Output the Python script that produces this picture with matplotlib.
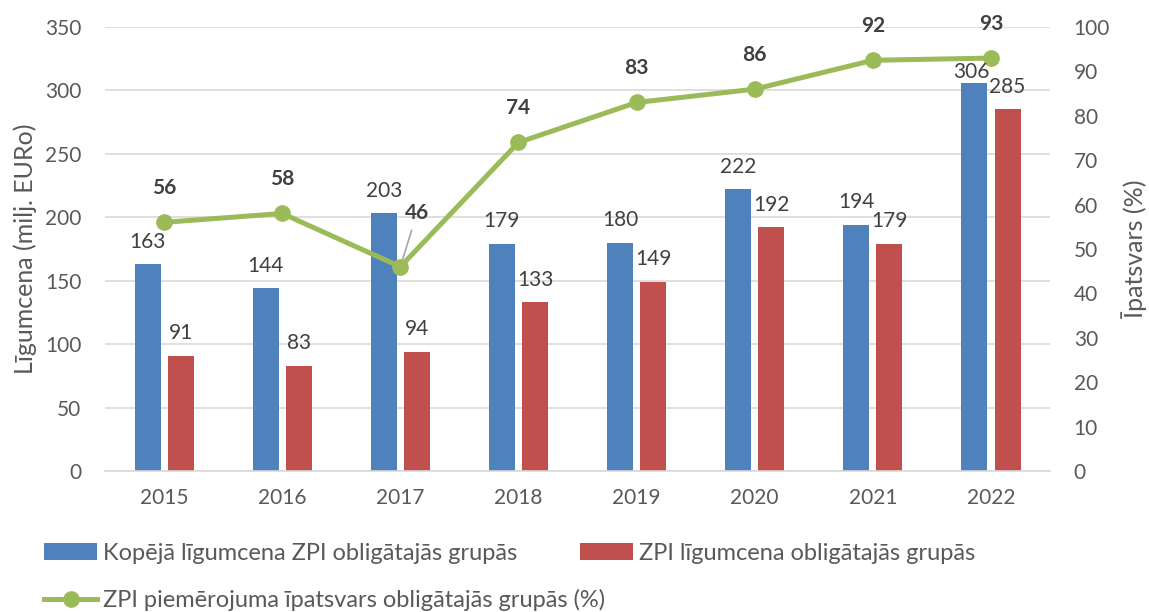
import matplotlib.pyplot as plt
import numpy as np

plt.rcParams['font.family'] = ['Lato', 'DejaVu Sans']

# dati
gadi = ['2015', '2016', '2017', '2018', '2019', '2020', '2021', '2022']
kopeja = [163, 144, 203, 179, 180, 222, 194, 306]
zpi = [91, 83, 94, 133, 149, 192, 179, 285]
ipatsvars = [56, 58, 46, 74, 83, 86, 92.5, 93]
ipatsvars_teksts = ['56', '58', '46', '74', '83', '86', '92', '93']

zils = '#4F81BD'
sarkans = '#C0504D'
zals = '#9BBB59'
teksts = '#595959'
vertibas = '#404040'

fig = plt.figure(figsize=(11.49, 6.12), dpi=100)
ax1 = fig.add_axes([0.0914, 0.2304, 0.8225, 0.7255])
x = np.arange(len(gadi))
plat = 0.22
off = 0.14

b1 = ax1.bar(x - off, kopeja, plat, color=zils, label='Kopējā līgumcena ZPI obligātajās grupās', zorder=2)
b2 = ax1.bar(x + off, zpi, plat, color=sarkans, label='ZPI līgumcena obligātajās grupās', zorder=2)

ax1.set_xlim(-0.5, len(gadi) - 0.5)
ax1.set_ylim(0, 350)
ax1.set_yticks(range(0, 351, 50))
ax1.set_xticks(x)
ax1.set_xticklabels(gadi)
ax1.grid(axis='y', color='#D9D9D9', lw=1.2, zorder=0)
ax1.set_axisbelow(True)
for s in ['top', 'left', 'right']:
    ax1.spines[s].set_visible(False)
ax1.spines['bottom'].set_color('#D9D9D9')
ax1.spines['bottom'].set_linewidth(1.2)
ax1.tick_params(axis='both', length=0, labelsize=15, colors=teksts)
ax1.tick_params(axis='x', pad=12)
ax1.tick_params(axis='y', pad=17)
ax1.set_ylabel('Līgumcena (milj. EURo)', fontsize=18, color=teksts, labelpad=6)

ax2 = ax1.twinx()
ln, = ax2.plot(x, ipatsvars, color=zals, lw=3.6, marker='o', markersize=11,
               label='ZPI piemērojuma īpatsvars obligātajās grupās (%)', zorder=4)
ax2.set_ylim(0, 100)
ax2.set_yticks(range(0, 101, 10))
for s in ['top', 'left', 'right', 'bottom']:
    ax2.spines[s].set_visible(False)
ax2.tick_params(axis='y', length=0, labelsize=15, colors=teksts, pad=17)
ax2.set_ylabel('Īpatsvars (%)', fontsize=18, color=teksts, labelpad=8)

# stabinu vertibas (uz ax2, lai butu virs linijas)
for i in range(len(gadi)):
    dy = 10
    dx = 0
    if i == len(gadi) - 1:
        dy = 1
        dx = -0.03
    ax2.text(x[i] - off + dx, kopeja[i] + dy, str(kopeja[i]), ha='center', va='bottom',
             fontsize=15, color=vertibas, zorder=6, transform=ax1.transData)
    ax2.text(x[i] + off, zpi[i] + 10, str(zpi[i]), ha='center', va='bottom',
             fontsize=15, color=vertibas, zorder=6, transform=ax1.transData)

for i in range(len(gadi)):
    if i == 2:
        ax2.annotate(ipatsvars_teksts[i], xy=(x[i], ipatsvars[i]), xytext=(x[i] + 0.14, 58),
                     ha='center', va='center', fontsize=15, fontweight='bold', color=vertibas,
                     arrowprops=dict(arrowstyle='-', color='#A6A6A6', lw=1.2, shrinkA=3, shrinkB=0))
    else:
        ax2.text(x[i], ipatsvars[i] + 5.5, ipatsvars_teksts[i], ha='center', va='bottom',
                 fontsize=15, fontweight='bold', color=vertibas, clip_on=False)

# legendas
leg_opts = dict(loc='center left', frameon=False, fontsize=17, labelcolor=teksts,
                handlelength=2.25, handletextpad=0.25, borderpad=0, borderaxespad=0)
fig.legend(handles=[b1], bbox_to_anchor=(0.0383, 0.0964), **leg_opts)
fig.legend(handles=[b2], bbox_to_anchor=(0.5048, 0.0964), **leg_opts)
fig.legend(handles=[ln], bbox_to_anchor=(0.0383, 0.0196), **leg_opts)

plt.savefig('out.png', dpi=100)
